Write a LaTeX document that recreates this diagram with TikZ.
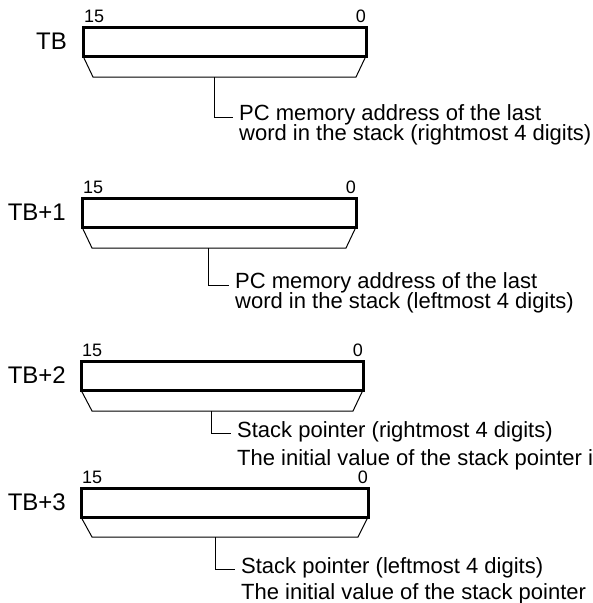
\documentclass[tikz,border=0pt]{standalone}
\usepackage{fontspec}
\setmainfont{Liberation Sans}
\usetikzlibrary{calc,positioning}

\tikzset{
  regbox/.style={draw, line width=3pt, anchor=north west, inner sep=0pt,
    outer sep=0pt, minimum height=29pt},
  regname/.style={anchor=east, inner sep=0pt, font=\fontsize{24}{24}\selectfont},
  bitnum/.style={inner sep=0pt, font=\fontsize{18}{18}\selectfont},
  fan/.style={line width=1pt},
  leader/.style={line width=1pt},
  note/.style={anchor=base west, inner xsep=6pt, inner ysep=0pt,
    font=\fontsize{22}{22}\selectfont},
}

\begin{document}
\begin{tikzpicture}[x=1pt, y=-1pt]
  \useasboundingbox (0,0) rectangle (593,603);

  % TB
  \node[regbox, minimum width=283pt] (w0) at (83,27) {};
  \node[regname] (w0name) at ([xshift=-16pt]w0.west) {TB};
  \node[bitnum, anchor=south west] (w0hi) at ([xshift=1pt, yshift=4.5pt]w0.north west) {15};
  \node[bitnum, anchor=south east] (w0lo) at ([yshift=4.5pt]w0.north east) {0};
  \draw[fan] (w0.south west) -- ++(10,21) -- ($(w0.south east)+(-10,21)$) -- (w0.south east);
  \coordinate (w0f) at ($(w0.south west)!0.463!(w0.south east)+(0,21)$);
  \node[note] (w0a) at (233,120) {PC memory address of the last};
  \node[note] (w0b) at ([yshift=-20pt]w0a.base west) {word in the stack (rightmost 4 digits)};
  \draw[leader] (w0f) |- ([yshift=2.5pt]w0a.base west);

  % TB+1
  \node[regbox, minimum width=274pt] (w1) at (82,198) {};
  \node[regname] (w1name) at ([xshift=-16pt]w1.west) {TB+1};
  \node[bitnum, anchor=south west] (w1hi) at ([xshift=1pt, yshift=4.5pt]w1.north west) {15};
  \node[bitnum, anchor=south east] (w1lo) at ([yshift=4.5pt]w1.north east) {0};
  \draw[fan] (w1.south west) -- ++(10,21) -- ($(w1.south east)+(-10,21)$) -- (w1.south east);
  \coordinate (w1f) at ($(w1.south west)!0.463!(w1.south east)+(0,21)$);
  \node[note] (w1a) at (229,288) {PC memory address of the last};
  \node[note] (w1b) at ([yshift=-20pt]w1a.base west) {word in the stack (leftmost 4 digits)};
  \draw[leader] (w1f) |- ([yshift=2.5pt]w1a.base west);

  % TB+2
  \node[regbox, minimum width=282pt] (w2) at (81,361) {};
  \node[regname] (w2name) at ([xshift=-15pt]w2.west) {TB+2};
  \node[bitnum, anchor=south west] (w2hi) at ([xshift=1pt, yshift=4.5pt]w2.north west) {15};
  \node[bitnum, anchor=south east] (w2lo) at ([yshift=4.5pt]w2.north east) {0};
  \draw[fan] (w2.south west) -- ++(11,21) -- ($(w2.south east)+(-10,21)$) -- (w2.south east);
  \coordinate (w2f) at ($(w2.south west)!0.463!(w2.south east)+(0,21)$);
  \node[note] (w2a) at (231,437) {Stack pointer (rightmost 4 digits)};
  \node[note] (w2b) at ([yshift=-28pt]w2a.base west) {The initial value of the stack pointer is};
  \draw[leader] (w2f) |- ([yshift=4pt]w2a.base west);

  % TB+3
  \node[regbox, minimum width=287pt] (w3) at (81,488) {};
  \node[regname] (w3name) at ([xshift=-15pt]w3.west) {TB+3};
  \node[bitnum, anchor=south west] (w3hi) at ([xshift=1pt, yshift=4.5pt]w3.north west) {15};
  \node[bitnum, anchor=south east] (w3lo) at ([yshift=4.5pt]w3.north east) {0};
  \draw[fan] (w3.south west) -- ++(11,20) -- ($(w3.south east)+(-10,20)$) -- (w3.south east);
  \coordinate (w3f) at ($(w3.south west)!0.467!(w3.south east)+(0,20)$);
  \node[note] (w3a) at (235,573) {Stack pointer (leftmost 4 digits)};
  \node[note] (w3b) at ([yshift=-26pt]w3a.base west) {The initial value of the stack pointer};
  \draw[leader] (w3f) |- ([yshift=3.5pt]w3a.base west);
\end{tikzpicture}
\end{document}
